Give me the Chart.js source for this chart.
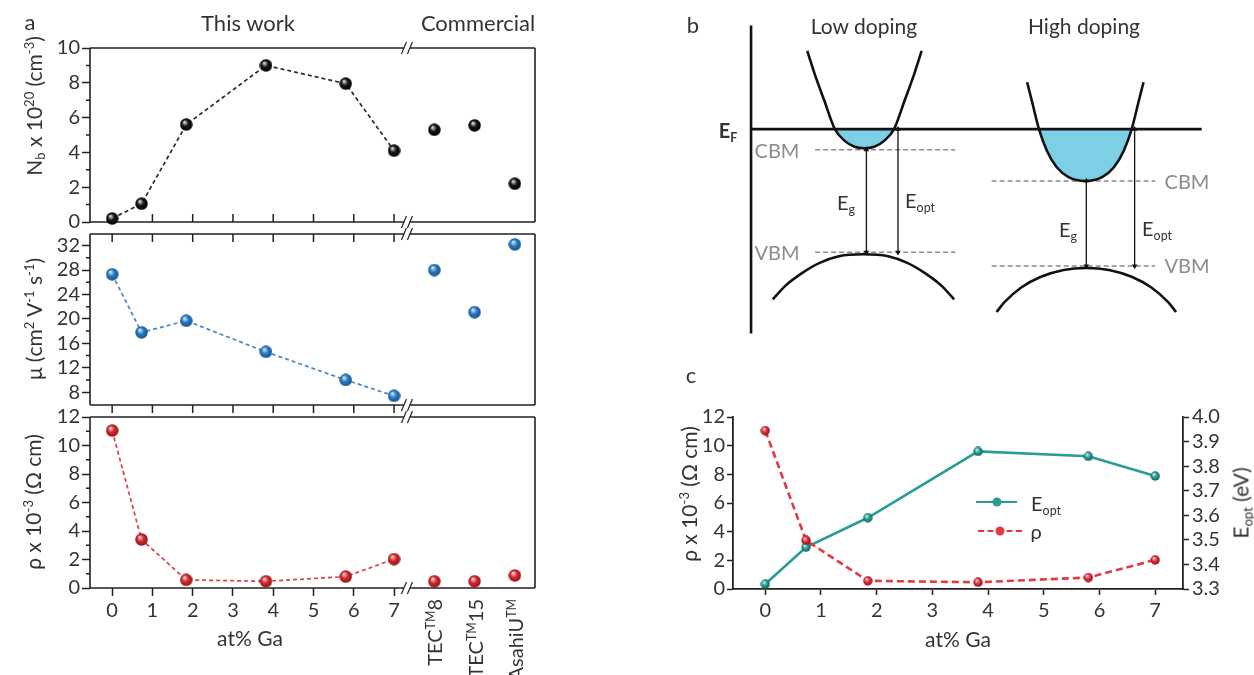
<!DOCTYPE html>
<html>
<head>
<meta charset="utf-8">
<script src="https://cdn.jsdelivr.net/npm/chart.js@4.4.1/dist/chart.umd.min.js"></script>
<style>
  html, body { margin: 0; padding: 0; background: #fff; }
  #fig { position: relative; width: 1254px; height: 675px; overflow: hidden;
         font-family: Lato, 'Open Sans', sans-serif; color: #333; }
  canvas { position: absolute; }
  .t   { position: absolute; white-space: nowrap; line-height: 1; font-size: 21px;
         transform: translate(-50%, -50%); }
  .rot { position: absolute; white-space: nowrap; line-height: 1; font-size: 21px;
         transform-origin: 0 0; transform: rotate(-90deg) translate(-50%, -50%); }
  .rotEnd { position: absolute; white-space: nowrap; line-height: 1; font-size: 20px;
         transform-origin: 0 0; transform: rotate(-90deg) translate(-100%, -50%); }
  sub { font-size: .62em; vertical-align: -.3em; line-height: 0; }
  sup { font-size: .62em; vertical-align: .6em; line-height: 0; }
  .gray { color: #8c8c8c; }
  .leg-line { position: absolute; height: 0; }
  .leg-dot { position: absolute; width: 9px; height: 9px; border-radius: 50%;
             transform: translate(-50%, -50%); }
</style>
</head>
<body>
<div id="fig">
  <canvas id="rowNb"  width="560" height="210" style="left:0;top:28px"></canvas>
  <canvas id="rowMu"  width="560" height="210" style="left:0;top:214px"></canvas>
  <canvas id="rowRho" width="560" height="278" style="left:0;top:397px"></canvas>
  <canvas id="bands"  width="574" height="360" style="left:680px;top:0"></canvas>
  <canvas id="dual"   width="574" height="295" style="left:680px;top:380px"></canvas>

  <!-- panel a text -->
  <div class="t" style="left:30px;top:22px;font-size:22px">a</div>
  <div class="t" style="left:248px;top:23px;font-size:22px">This work</div>
  <div class="t" style="left:478px;top:23px;font-size:22px">Commercial</div>
  <div class="rot" style="left:33px;top:106px">N<sub>b</sub> x 10<sup>20</sup> (cm<sup>-3</sup>)</div>
  <div class="rot" style="left:33px;top:319px">&mu; (cm<sup>2</sup> V<sup>-1</sup> s<sup>-1</sup>)</div>
  <div class="rot" style="left:32px;top:502px">&rho; x 10<sup>-3</sup> (&Omega; cm)</div>
  <div class="t" style="left:250px;top:637px">at% Ga</div>
  <div id="commLabels"></div>

  <!-- panel b text -->
  <div class="t" style="left:693px;top:25px;font-size:22px">b</div>
  <div class="t" style="left:864px;top:25px">Low doping</div>
  <div class="t" style="left:1084px;top:25px">High doping</div>
  <div class="t" style="left:728px;top:130px;font-weight:bold;font-size:20px">E<sub>F</sub></div>
  <div class="t gray" style="left:777px;top:150px;font-size:20px">CBM</div>
  <div class="t gray" style="left:777px;top:252px;font-size:20px">VBM</div>
  <div class="t gray" style="left:1187px;top:181px;font-size:20px">CBM</div>
  <div class="t gray" style="left:1187px;top:265px;font-size:20px">VBM</div>
  <div class="t" style="left:846px;top:202px;font-size:20px">E<sub>g</sub></div>
  <div class="t" style="left:920px;top:200px;font-size:20px">E<sub>opt</sub></div>
  <div class="t" style="left:1068px;top:229px;font-size:20px">E<sub>g</sub></div>
  <div class="t" style="left:1157px;top:228px;font-size:20px">E<sub>opt</sub></div>

  <!-- panel c text -->
  <div class="t" style="left:691px;top:375px;font-size:22px">c</div>
  <div class="rot" style="left:688px;top:494px">&rho; x 10<sup>-3</sup> (&Omega; cm)</div>
  <div class="rot" style="left:1240px;top:503px">E<sub>opt</sub> (eV)</div>
  <div class="t" style="left:958px;top:638px">at% Ga</div>
  <div class="leg-line" style="left:976px;top:501px;width:41px;border-top:2.5px solid #2b9b95"></div>
  <div class="leg-dot" style="left:997px;top:502px;background:#2b9b95"></div>
  <div class="t" style="left:1046px;top:503px;font-size:20px">E<sub>opt</sub></div>
  <div class="leg-line" style="left:978px;top:530px;width:44px;border-top:2.5px dashed #e23b3f"></div>
  <div class="leg-dot" style="left:1000px;top:531px;background:#e23b3f"></div>
  <div class="t" style="left:1036px;top:531px;font-size:20px">&rho;</div>
</div>

<script>
'use strict';

// ── Data: panel a / c ─────────────────────────────────────
const GA_PCT    = [0, 0.73, 1.84, 3.82, 5.8, 7.0];
const NB        = [0.2, 1.05, 5.6, 9.0, 7.95, 4.1];
const MOBILITY  = [27.3, 17.8, 19.7, 14.6, 10.0, 7.4];
const RHO       = [11.05, 3.4, 0.57, 0.47, 0.8, 2.03];
const E_OPT     = [3.32, 3.47, 3.59, 3.86, 3.84, 3.76];

const COMMERCIAL = ['TEC<sup>TM</sup>8', 'TEC<sup>TM</sup>15', 'AsahiU<sup>TM</sup>'];
const COMM_SLOT  = [8, 9, 10];
const NB_COMM    = [5.3, 5.55, 2.2];
const MU_COMM    = [28.0, 21.1, 32.2];
const RHO_COMM   = [0.47, 0.47, 0.88];

// ── Tick values ───────────────────────────────────────────
const GA_TICKS   = [0, 1, 2, 3, 4, 5, 6, 7];
const NB_TICKS   = [0, 2, 4, 6, 8, 10];
const NB_MINOR   = [1, 3, 5, 7, 9];
const MU_TICKS   = [8, 12, 16, 20, 24, 28, 32];
const MU_MINOR   = [10, 14, 18, 22, 26, 30];
const RHO_TICKS  = [0, 2, 4, 6, 8, 10, 12];
const RHO_MINOR  = [1, 3, 5, 7, 9, 11];
const EOPT_TICKS = [3.3, 3.4, 3.5, 3.6, 3.7, 3.8, 3.9, 4.0];

// ── Data: panel b (schematic, in picture units) ───────────
const AXIS_LINE = [[748, 22], [748, 337]];
const FERMI     = [[748, 128], [1205, 128]];
const CB_LOW    = [[805, 48], [813, 73], [822, 98], [833, 128], [843, 140], [853, 146], [863, 147.5],
                   [873, 146], [883, 140], [893, 128], [904, 98], [913, 73], [921, 48]];
const CB_LOW_FILL  = [[833, 128], [843, 140], [853, 146], [863, 147.5], [873, 146], [883, 140], [893, 128]];
const CB_HIGH   = [[1028, 80], [1033, 100], [1040, 128], [1048, 150], [1058, 167], [1070, 177], [1087, 181],
                   [1104, 177], [1116, 167], [1126, 150], [1134, 128], [1141, 100], [1146, 80]];
const CB_HIGH_FILL = [[1040, 128], [1048, 150], [1058, 167], [1070, 177], [1087, 181],
                      [1104, 177], [1116, 167], [1126, 150], [1134, 128]];
const VB_LOW    = [[770, 302], [783, 288], [800, 275], [817, 265], [837, 258], [862, 256],
                   [887, 258], [907, 265], [924, 275], [941, 288], [954, 302]];
const VB_HIGH   = [[997, 315], [1005, 305], [1022, 290], [1042, 279], [1065, 272], [1088, 270],
                   [1111, 272], [1134, 279], [1154, 290], [1171, 305], [1179, 315]];
const LEVELS    = [ [[813, 149], [955, 149]], [[813, 254], [955, 254]],
                    [[992, 181], [1158, 181]], [[992, 268], [1158, 268]] ];
const ARROWS    = [[865, 149, 254], [897, 128, 254], [1088, 181, 268], [1137, 128, 268]];

// ── Chart defaults ────────────────────────────────────────
Chart.defaults.font.family = "Lato, 'Open Sans', sans-serif";
Chart.defaults.color = '#333';
const TICK_FONT = { size: 20 };
const INK = '#222';

// ── Sphere markers ────────────────────────────────────────
function sphere(d, light, base, dark) {
  const c = document.createElement('canvas');
  c.width = c.height = d;
  const g = c.getContext('2d');
  const r = d / 2;
  const grad = g.createRadialGradient(r * 0.72, r * 0.62, r * 0.08, r, r, r);
  grad.addColorStop(0, light);
  grad.addColorStop(0.45, base);
  grad.addColorStop(1, dark);
  g.fillStyle = grad;
  g.beginPath();
  g.arc(r, r, r - 0.3, 0, Math.PI * 2);
  g.fill();
  return c;
}
const DOT_BLACK = sphere(13, '#d8d8d8', '#161616', '#000');
const DOT_BLUE  = sphere(13, '#cfe8fb', '#2a7cc4', '#124d86');
const DOT_RED   = sphere(13, '#fbd0d0', '#d52a30', '#8d1016');
const DOT_TEAL  = sphere(10, '#c9f0ec', '#2a9c95', '#125f5b');
const DOT_RED_S = sphere(10, '#fbd0d0', '#de3036', '#8d1016');

const toXY = (xs, ys) => xs.map((x, i) => ({ x, y: ys[i] }));
const pts  = arr => arr.map(([x, y]) => ({ x, y }));

// ── Frame with axis break (panel a) ───────────────────────
const framePlugin = {
  id: 'frame',
  beforeDatasetsDraw(chart, args, o) {
    const { ctx, chartArea: a, scales: { x, y } } = chart;
    const bx = x.getPixelForValue(o.breakAt);
    ctx.save();
    ctx.strokeStyle = INK;
    ctx.lineWidth = 1.6;
    ctx.beginPath();
    ctx.moveTo(a.left, a.top); ctx.lineTo(a.left, a.bottom);
    ctx.moveTo(a.right, a.top); ctx.lineTo(a.right, a.bottom);
    [a.top, a.bottom].forEach(yy => {
      ctx.moveTo(a.left, yy); ctx.lineTo(bx - 3, yy);
      ctx.moveTo(bx + 3, yy); ctx.lineTo(a.right, yy);
    });
    ctx.stroke();

    // break marks //
    ctx.lineWidth = 1.2;
    ctx.beginPath();
    [a.top, a.bottom].forEach(yy => {
      [-3, 3].forEach(dx => {
        ctx.moveTo(bx + dx - 2.5, yy + 6);
        ctx.lineTo(bx + dx + 2.5, yy - 6);
      });
    });
    ctx.stroke();

    // x ticks on top / bottom edges
    ctx.lineWidth = 1.5;
    ctx.beginPath();
    GA_TICKS.forEach(v => {
      const px = x.getPixelForValue(v);
      if (o.top === 'in')     { ctx.moveTo(px, a.top);    ctx.lineTo(px, a.top + 8); }
      if (o.bottom === 'in')  { ctx.moveTo(px, a.bottom); ctx.lineTo(px, a.bottom - 8); }
      if (o.bottom === 'out') { ctx.moveTo(px, a.bottom); ctx.lineTo(px, a.bottom + 8); }
    });
    // y minor ticks
    (o.minor || []).forEach(v => {
      const py = y.getPixelForValue(v);
      ctx.moveTo(a.left - 4, py); ctx.lineTo(a.left, py);
    });
    ctx.stroke();
    ctx.restore();
  }
};

// ── Panel a rows ──────────────────────────────────────────
function buildRow(id, cfg) {
  return new Chart(document.getElementById(id), {
    type: 'line',
    data: {
      datasets: [
        {
          data: toXY(GA_PCT, cfg.values),
          borderColor: cfg.line,
          borderWidth: 1.7,
          borderDash: [4, 3],
          pointStyle: cfg.dot,
          pointRadius: 6,
          clip: false
        },
        {
          data: toXY(COMM_SLOT, cfg.comm),
          showLine: false,
          pointStyle: cfg.dot,
          pointRadius: 6,
          clip: false
        }
      ]
    },
    options: {
      responsive: false,
      animation: false,
      events: [],
      layout: { padding: cfg.pad },
      plugins: {
        legend: { display: false },
        tooltip: { enabled: false },
        frame: { breakAt: 7.32, top: cfg.top, bottom: cfg.bottom, minor: cfg.minor }
      },
      scales: {
        x: {
          type: 'linear',
          min: -0.55,
          max: 10.5,
          display: !!cfg.showX,
          afterBuildTicks: s => { s.ticks = GA_TICKS.map(v => ({ value: v })); },
          afterFit: s => { if (cfg.showX) s.height = cfg.xHeight; },
          grid: { drawOnChartArea: false, tickLength: 8, tickColor: INK, tickWidth: 1.5 },
          border: { display: false },
          ticks: { font: TICK_FONT, padding: 3, maxRotation: 0, autoSkip: false, color: '#333' }
        },
        y: {
          min: cfg.min,
          max: cfg.max,
          afterBuildTicks: s => { s.ticks = cfg.ticks.map(v => ({ value: v })); },
          afterFit: s => { s.width = 90; },
          grid: { drawOnChartArea: false, tickLength: 8, tickColor: INK, tickWidth: 1.5 },
          border: { display: false },
          ticks: { font: TICK_FONT, padding: 2, autoSkip: false, color: '#333' }
        }
      }
    },
    plugins: [framePlugin]
  });
}

buildRow('rowNb', {
  values: NB, comm: NB_COMM, line: '#2a2a2a', dot: DOT_BLACK,
  min: 0, max: 10, ticks: NB_TICKS, minor: NB_MINOR,
  pad: { top: 20, bottom: 16, left: 0, right: 25 },
  bottom: 'in'
});

buildRow('rowMu', {
  values: MOBILITY, comm: MU_COMM, line: '#4a86bd', dot: DOT_BLUE,
  min: 5.9, max: 33.9, ticks: MU_TICKS, minor: MU_MINOR,
  pad: { top: 20, bottom: 19, left: 0, right: 25 },
  top: 'in', bottom: 'out'
});

const rhoRow = buildRow('rowRho', {
  values: RHO, comm: RHO_COMM, line: '#d8434a', dot: DOT_RED,
  min: 0, max: 12, ticks: RHO_TICKS, minor: RHO_MINOR,
  pad: { top: 20, bottom: 0, left: 0, right: 25 },
  showX: true, xHeight: 87
});

// commercial sample names under the broken axis
const commBox = document.getElementById('commLabels');
COMMERCIAL.forEach((name, i) => {
  const el = document.createElement('div');
  el.className = 'rotEnd';
  el.style.left = rhoRow.scales.x.getPixelForValue(COMM_SLOT[i]) + 'px';
  el.style.top = '599px';
  el.innerHTML = name;
  commBox.appendChild(el);
});

// ── Panel b: band diagram ─────────────────────────────────
const solid = (arr, w) => ({
  data: pts(arr), borderColor: '#111', borderWidth: w, pointRadius: 0,
  cubicInterpolationMode: 'monotone', fill: false
});
const bandSets = [
  solid(FERMI, 2.6),
  solid(AXIS_LINE, 2.6),
  ...ARROWS.map(([x, y1, y2]) => ({
    data: [{ x, y: y1 }, { x, y: y2 }],
    borderColor: '#111', borderWidth: 1.3,
    pointStyle: 'triangle', pointRadius: 3.2, pointRotation: [0, 180],
    pointBackgroundColor: '#111', pointBorderWidth: 0
  })),
  solid(CB_LOW, 2.6),
  solid(CB_HIGH, 2.6),
  solid(VB_LOW, 2.6),
  solid(VB_HIGH, 2.6),
  ...LEVELS.map(l => ({
    data: pts(l), borderColor: '#8a8a8a', borderWidth: 1.5, borderDash: [5, 3], pointRadius: 0
  })),
  ...[CB_LOW_FILL, CB_HIGH_FILL].map(f => ({
    data: pts(f), borderWidth: 0, pointRadius: 0,
    cubicInterpolationMode: 'monotone',
    backgroundColor: '#7dcfe6', fill: { value: 128 }
  }))
];

new Chart(document.getElementById('bands'), {
  type: 'line',
  data: { datasets: bandSets },
  options: {
    responsive: false,
    animation: false,
    events: [],
    layout: { padding: 0 },
    plugins: { legend: { display: false }, tooltip: { enabled: false } },
    scales: {
      x: { type: 'linear', min: 680, max: 1254, display: false },
      y: { type: 'linear', min: 0, max: 360, reverse: true, display: false }
    }
  }
});

// ── Panel c: dual axis ────────────────────────────────────
new Chart(document.getElementById('dual'), {
  type: 'line',
  data: {
    datasets: [
      {
        label: 'ρ',
        data: toXY(GA_PCT, RHO),
        yAxisID: 'y',
        borderColor: '#e23b3f',
        borderWidth: 2.6,
        borderDash: [7, 4],
        pointStyle: DOT_RED_S,
        pointRadius: 5,
        clip: false
      },
      {
        label: 'Eopt',
        data: toXY(GA_PCT, E_OPT),
        yAxisID: 'y2',
        borderColor: '#2b9b95',
        borderWidth: 2.6,
        pointStyle: DOT_TEAL,
        pointRadius: 5,
        clip: false
      }
    ]
  },
  options: {
    responsive: false,
    animation: false,
    events: [],
    layout: { padding: { top: 37, left: 0, right: 0, bottom: 0 } },
    plugins: { legend: { display: false }, tooltip: { enabled: false } },
    scales: {
      x: {
        type: 'linear', min: -0.58, max: 7.5,
        afterBuildTicks: s => { s.ticks = GA_TICKS.map(v => ({ value: v })); },
        afterFit: s => { s.height = 86; },
        grid: { drawOnChartArea: false, tickLength: 6, tickColor: INK, tickWidth: 1.5 },
        border: { color: INK, width: 1.8 },
        ticks: { font: TICK_FONT, padding: 4, maxRotation: 0, autoSkip: false }
      },
      y: {
        position: 'left', min: 0, max: 12,
        afterBuildTicks: s => { s.ticks = RHO_TICKS.map(v => ({ value: v })); },
        afterFit: s => { s.width = 53; },
        grid: { drawOnChartArea: false, tickLength: 6, tickColor: INK, tickWidth: 1.5 },
        border: { color: INK, width: 1.8 },
        ticks: { font: TICK_FONT, padding: 2, autoSkip: false }
      },
      y2: {
        position: 'right', min: 3.3, max: 4.0,
        afterBuildTicks: s => { s.ticks = EOPT_TICKS.map(v => ({ value: v })); },
        afterFit: s => { s.width = 71; },
        grid: { drawOnChartArea: false, tickLength: 6, tickColor: INK, tickWidth: 1.5 },
        border: { color: INK, width: 1.8 },
        ticks: { font: TICK_FONT, padding: 3, autoSkip: false, callback: v => v.toFixed(1) }
      }
    }
  }
});
</script>
</body>
</html>
